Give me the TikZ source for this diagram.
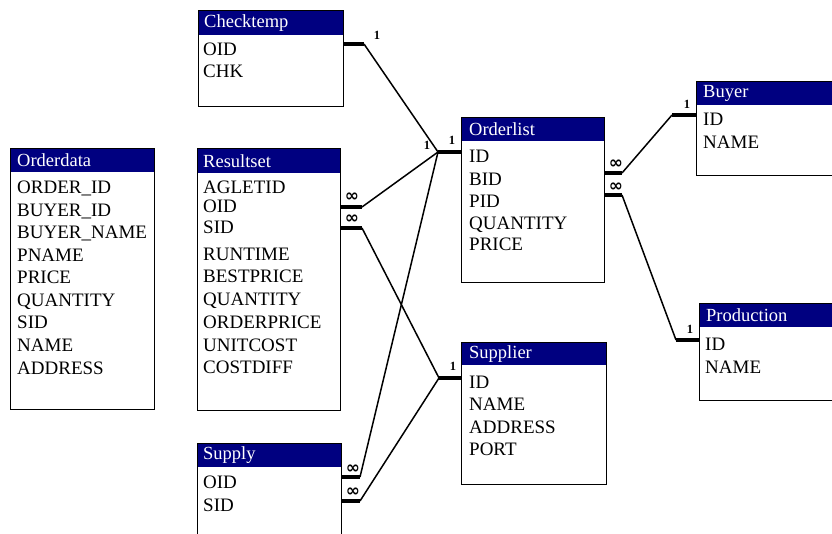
\documentclass[tikz,border=0pt]{standalone}
\usepackage{fontspec}
\setmainfont{Liberation Serif}
\newfontfamily\djv{DejaVu Sans}
\definecolor{hdrblue}{HTML}{000080}
\newcommand\erbox[8]{% name, x, y, w, h, header h, title, title x offset
  \node[hdr, minimum width=#4pt, minimum height=#6pt] (#1h) at (#2,#3) {};
  \node[tbl, minimum width=#4pt, minimum height=#5pt] (#1) at (#2,#3) {};
  \node[ttl] (#1t) at ([xshift=#8pt]#1h.west) {#7};
}
\begin{document}
\begin{tikzpicture}[x=1pt,y=-1pt,
  tbl/.style={draw=black, line width=1.4pt, anchor=north west, inner sep=0pt},
  hdr/.style={fill=hdrblue, draw=none, anchor=north west, inner sep=0pt},
  ttl/.style={anchor=west, inner sep=0pt, text=white, font=\fontsize{18.5}{20}\selectfont},
  fld/.style={anchor=base west, inner sep=0pt, font=\fontsize{19}{21}\selectfont},
  stub/.style={line width=3.2pt},
  thin/.style={line width=1.5pt},
  one/.style={inner sep=0pt, font=\bfseries\fontsize{12.5}{12}\selectfont},
  many/.style={inner sep=0pt, font=\djv\bfseries\fontsize{17}{17}\selectfont}
]
\useasboundingbox[fill=white] (0,0) rectangle (832,534);

% tables
\erbox{chk}{198}{10}{145}{96}{25}{Checktemp}{6}
\node[fld] (chk1) at (203,56) {OID};
\node[fld] (chk2) at (203,78) {CHK};

\erbox{res}{197}{148}{143}{262}{25}{Resultset}{6}
\node[fld] (res1) at (203,194) {AGLETID};
\node[fld] (res2) at (203,212.5) {OID};
\node[fld] (res3) at (203,234) {SID};
\node[fld] (res4) at (203,261) {RUNTIME};
\node[fld] (res5) at (203,283) {BESTPRICE};
\node[fld] (res6) at (203,306) {QUANTITY};
\node[fld] (res7) at (203,328) {ORDERPRICE};
\node[fld] (res8) at (203,351) {UNITCOST};
\node[fld] (res9) at (203,373) {COSTDIFF};

\erbox{odt}{10}{148}{144}{261}{24}{Orderdata}{7}
\node[fld] (odt1) at (17,194) {ORDER\_ID};
\node[fld] (odt2) at (17,216.5) {BUYER\_ID};
\node[fld] (odt3) at (17,239) {BUYER\_NAME};
\node[fld] (odt4) at (17,261.5) {PNAME};
\node[fld] (odt5) at (17,284) {PRICE};
\node[fld] (odt6) at (17,306.5) {QUANTITY};
\node[fld] (odt7) at (17,329) {SID};
\node[fld] (odt8) at (17,351.5) {NAME};
\node[fld] (odt9) at (17,374) {ADDRESS};

\erbox{ol}{461}{117}{143}{165}{24}{Orderlist}{8}
\node[fld] (ol1) at (469,163) {ID};
\node[fld] (ol2) at (469,186) {BID};
\node[fld] (ol3) at (469,208) {PID};
\node[fld] (ol4) at (469,230) {QUANTITY};
\node[fld] (ol5) at (469,251) {PRICE};

\erbox{sup}{461}{342}{145}{142}{23}{Supplier}{8}
\node[fld] (sup1) at (469,388) {ID};
\node[fld] (sup2) at (469,410) {NAME};
\node[fld] (sup3) at (469,433) {ADDRESS};
\node[fld] (sup4) at (469,455) {PORT};

\erbox{buy}{696}{81}{160}{94}{24}{Buyer}{7}
\node[fld] (buy1) at (703,126) {ID};
\node[fld] (buy2) at (703,149) {NAME};

\erbox{prd}{699}{303}{160}{97}{24}{Production}{7}
\node[fld] (prd1) at (705,350) {ID};
\node[fld] (prd2) at (705,373) {NAME};

\erbox{spl}{197}{443}{144}{120}{24}{Supply}{6}
\node[fld] (spl1) at (203,488) {OID};
\node[fld] (spl2) at (203,511) {SID};

% connector points
\coordinate (jO) at (438,152);
\coordinate (jS) at (439,378);
\coordinate (jB) at (672,115);
\coordinate (jP) at (676,340);
\coordinate (cA) at (364,44);
\coordinate (rO) at (362,207);
\coordinate (rS) at (362,228);
\coordinate (sO) at (360,477);
\coordinate (sS) at (360,501);
\coordinate (oB) at (622,173);
\coordinate (oP) at (622,195);

% stubs
\draw[stub] (chk.east |- cA) -- (cA);
\draw[stub] (jO) -- (ol.west |- jO);
\draw[stub] (res.east |- rO) -- (rO);
\draw[stub] (res.east |- rS) -- (rS);
\draw[stub] (jS) -- (sup.west |- jS);
\draw[stub] (spl.east |- sO) -- (sO);
\draw[stub] (spl.east |- sS) -- (sS);
\draw[stub] (ol.east |- oB) -- (oB);
\draw[stub] (ol.east |- oP) -- (oP);
\draw[stub] (jB) -- (buy.west |- jB);
\draw[stub] (jP) -- (prd.west |- jP);

% thin lines
\draw[thin] (cA) -- (jO);
\draw[thin] (rO) -- (jO);
\draw[thin] (sO) -- (jO);
\draw[thin] (rS) -- (jS);
\draw[thin] (sS) -- (jS);
\draw[thin] (oB) -- (jB);
\draw[thin] (oP) -- (jP);

% cardinality labels
\node[one] (l1) at (377,35) {1};
\node[one] (l2) at (427,145) {1};
\node[one] (l3) at (452,140) {1};
\node[one] (l4) at (453,366) {1};
\node[one] (l5) at (687,104) {1};
\node[one] (l6) at (690,329) {1};
\node[many] (m1) at (352,197) {∞};
\node[many] (m2) at (352,219) {∞};
\node[many] (m3) at (353,469) {∞};
\node[many] (m4) at (353,492) {∞};
\node[many] (m5) at (616,164) {∞};
\node[many] (m6) at (616,187) {∞};
\end{tikzpicture}
\end{document}
